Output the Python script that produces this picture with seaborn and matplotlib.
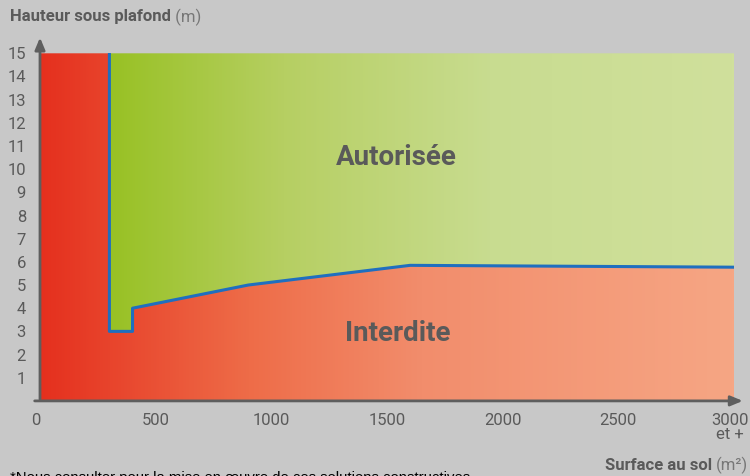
import numpy as np
import pandas as pd
import seaborn as sns
import matplotlib.pyplot as plt
import matplotlib.transforms as mtransforms
from matplotlib.colors import LinearSegmentedColormap
from matplotlib.patches import Polygon

# Limite entre zone autorisée et zone interdite
boundary_x = [300, 300, 400, 400, 900, 1600, 3000]
boundary_y = [15, 3, 3, 4, 5, 5.85, 5.77]

x_ticks = [0, 500, 1000, 1500, 2000, 2500, 3000]
x_labels = ['0', '500', '1000', '1500', '2000', '2500', '3000\net +']
y_ticks = list(range(1, 16))

red_stops = [(0.0, '#e5301e'), (0.3, '#ee6c48'), (0.55, '#f28d6c'), (1.0, '#f6a684')]
green_stops = [(0.0, '#98c124'), (0.1, '#98c124'), (0.35, '#b6cf62'), (0.65, '#c8dc90'), (1.0, '#d0e09c')]

sns.set_theme(style='white')
plt.rcParams['font.family'] = ['Roboto', 'DejaVu Sans']

bg = '#c8c8c8'
axis_col = '#5e5e5e'
text_col = '#5a5a5a'

fig = plt.figure(figsize=(7.5, 4.76), dpi=100, facecolor=bg)
ax = fig.add_axes([40 / 750, 75.1 / 476, 694 / 750, 347.6 / 476])
ax.set_facecolor(bg)
ax.set_xlim(0, 3000)
ax.set_ylim(0, 15)

df = pd.DataFrame({'x': boundary_x, 'y': boundary_y})

# Zones avec dégradé horizontal
grad = np.linspace(0, 1, 512).reshape(1, -1)
red_cmap = LinearSegmentedColormap.from_list('rouge', red_stops)
green_cmap = LinearSegmentedColormap.from_list('vert', green_stops)

red_poly = [(0, 0), (0, 15), (300, 15)] + list(zip(boundary_x, boundary_y))[1:] + [(3000, 0)]
green_poly = list(zip(boundary_x, boundary_y)) + [(3000, 15)]

for poly_pts, cmap in [(red_poly, red_cmap), (green_poly, green_cmap)]:
    patch = Polygon(poly_pts, closed=True, facecolor='none', edgecolor='none')
    ax.add_patch(patch)
    im = ax.imshow(grad, cmap=cmap, extent=[0, 3000, 0, 15], aspect='auto', zorder=1)
    im.set_clip_path(patch)

sns.lineplot(data=df, x='x', y='y', sort=False, estimator=None,
             color='#1f6fbf', linewidth=2.2, ax=ax, zorder=3)

# Axes avec flèches
for s in ax.spines.values():
    s.set_visible(False)
ax.annotate('', xy=(0, 15.8), xytext=(0, -0.05),
            arrowprops=dict(arrowstyle='-|>,head_length=0.6,head_width=0.25', color=axis_col, lw=2),
            annotation_clip=False, zorder=4)
ax.annotate('', xy=(3050, 0), xytext=(-35, 0),
            arrowprops=dict(arrowstyle='-|>,head_length=0.6,head_width=0.25', color=axis_col, lw=2),
            annotation_clip=False, zorder=4)

ax.set_xticks(x_ticks)
ax.set_xticklabels(x_labels, linespacing=0.85)
ax.set_yticks(y_ticks)
ax.tick_params(axis='both', colors=axis_col, labelcolor=text_col, labelsize=12,
               direction='out', width=1.5, length=7, pad=3)
ax.tick_params(axis='x', length=5, pad=4)
ax.get_xticklabels()[0].set_horizontalalignment('right')
last = ax.get_xticklabels()[-1]
last.set_horizontalalignment('center')
last.set_transform(last.get_transform() + mtransforms.ScaledTranslation(-4 / 100, 0, fig.dpi_scale_trans))
ax.set_xlabel('')
ax.set_ylabel('')

# Textes
ax.text(1539, 10.5, 'Autorisée', fontsize=20, fontweight='bold', color=text_col,
        ha='center', va='center', zorder=5)
ax.text(1545, 2.93, 'Interdite', fontsize=20, fontweight='bold', color=text_col,
        ha='center', va='center', zorder=5)

t1 = fig.text(10 / 750, 1 - 17 / 476, 'Hauteur sous plafond', fontsize=12, fontweight='bold',
              color=text_col, ha='left', va='center')
ax.annotate(' (m)', xy=(1, 0.5), xycoords=t1, fontsize=12, color='#777777',
            ha='left', va='center', annotation_clip=False)

t2 = fig.text(748 / 750, 1 - 465 / 476, '(m²)', fontsize=12, color='#777777',
              ha='right', va='center')
ax.annotate('Surface au sol ', xy=(0, 0.5), xycoords=t2, fontsize=12, fontweight='bold',
            color=text_col, ha='right', va='center', annotation_clip=False)

fig.text(10 / 750, 1 - 471 / 476, '*Nous consulter pour la mise en œuvre de ces solutions constructives',
         fontsize=10.7, color='black', ha='left', va='top', family=['Liberation Sans', 'DejaVu Sans'])

fig.savefig('out.png', dpi=100, facecolor=bg)
